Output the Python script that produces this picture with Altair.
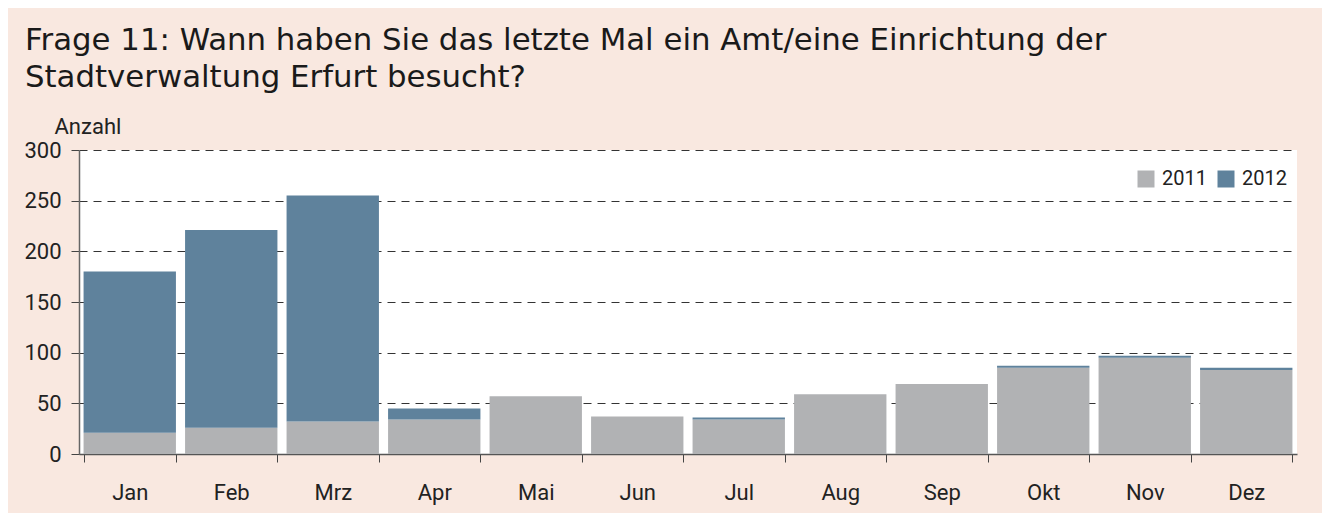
import altair as alt
import pandas as pd

months = ["Jan", "Feb", "Mrz", "Apr", "Mai", "Jun", "Jul", "Aug", "Sep", "Okt", "Nov", "Dez"]
v2011 = [21, 26, 32, 34, 57, 37, 34, 59, 69, 85, 95, 83]
v2012 = [159, 195, 223, 11, 0, 0, 2, 0, 0, 2, 2, 2]
years = ["2011", "2012"]
colors = ["#b1b2b4", "#5f829c"]

rows = []
for m, a, b in zip(months, v2011, v2012):
    rows.append({"Monat": m, "Jahr": "2011", "Anzahl": a, "ord": 0})
    rows.append({"Monat": m, "Jahr": "2012", "Anzahl": b, "ord": 1})
df = pd.DataFrame(rows)

FONT = "Roboto"
TFONT = "DejaVu Sans"

chart = (
    alt.Chart(df)
    .mark_bar()
    .encode(
        x=alt.X(
            "Monat:N",
            sort=months,
            scale=alt.Scale(paddingInner=0.09, paddingOuter=0.045),
            axis=alt.Axis(
                title=None,
                labelAngle=0,
                tickBand="extent",
                tickSize=8,
                tickColor="#444",
                domainColor="#555",
                domainWidth=1.5,
                labelPadding=20,
                labelFontSize=22,
                labelFont=FONT,
                labelColor="#222",
                grid=False,
            ),
        ),
        y=alt.Y(
            "Anzahl:Q",
            stack="zero",
            scale=alt.Scale(domain=[0, 300], nice=False),
            axis=alt.Axis(
                values=[0, 50, 100, 150, 200, 250, 300],
                title="Anzahl",
                titleAngle=0,
                titleAlign="left",
                titleBaseline="alphabetic",
                titleX=-25,
                titleY=-17,
                titleFont=FONT,
                titleFontSize=22,
                titleFontWeight="normal",
                titleColor="#222",
                tickSize=8,
                tickColor="#444",
                domainColor="#666",
                domainWidth=1.5,
                labelPadding=10,
                labelFontSize=22,
                labelFont=FONT,
                labelColor="#222",
                grid=True,
                gridColor="#333",
                gridDash=[8, 6],
                gridWidth=1,
            ),
        ),
        color=alt.Color(
            "Jahr:N",
            scale=alt.Scale(domain=years, range=colors),
            legend=alt.Legend(
                title=None,
                orient="none",
                legendX=1057,
                legendY=19,
                direction="horizontal",
                symbolType="square",
                symbolSize=289,
                symbolStrokeWidth=0,
                labelFont=FONT,
                labelFontSize=20,
                labelColor="#222",
                labelOffset=6,
                columnPadding=9,
            ),
        ),
        order=alt.Order("ord:Q"),
    )
    .properties(
        width=1218,
        height=304,
        padding={"left": 71, "top": 142, "right": 25, "bottom": 59},
        autosize=alt.AutoSizeParams(type="none"),
        background="#f9e8e0",
        title=alt.TitleParams(
            text=["Frage 11: Wann haben Sie das letzte Mal ein Amt/eine Einrichtung der",
                  "Stadtverwaltung Erfurt besucht?"],
            anchor="start",
            frame="group",
            font=TFONT,
            fontSize=30.8,
            fontWeight="normal",
            color="#1a1a1a",
            lineHeight=37,
            dx=-54,
            offset=21,
        ),
    )
    .configure_view(fill="white", stroke=None)
)

chart.save("out.html", embed_options={"renderer": "svg", "actions": False})
